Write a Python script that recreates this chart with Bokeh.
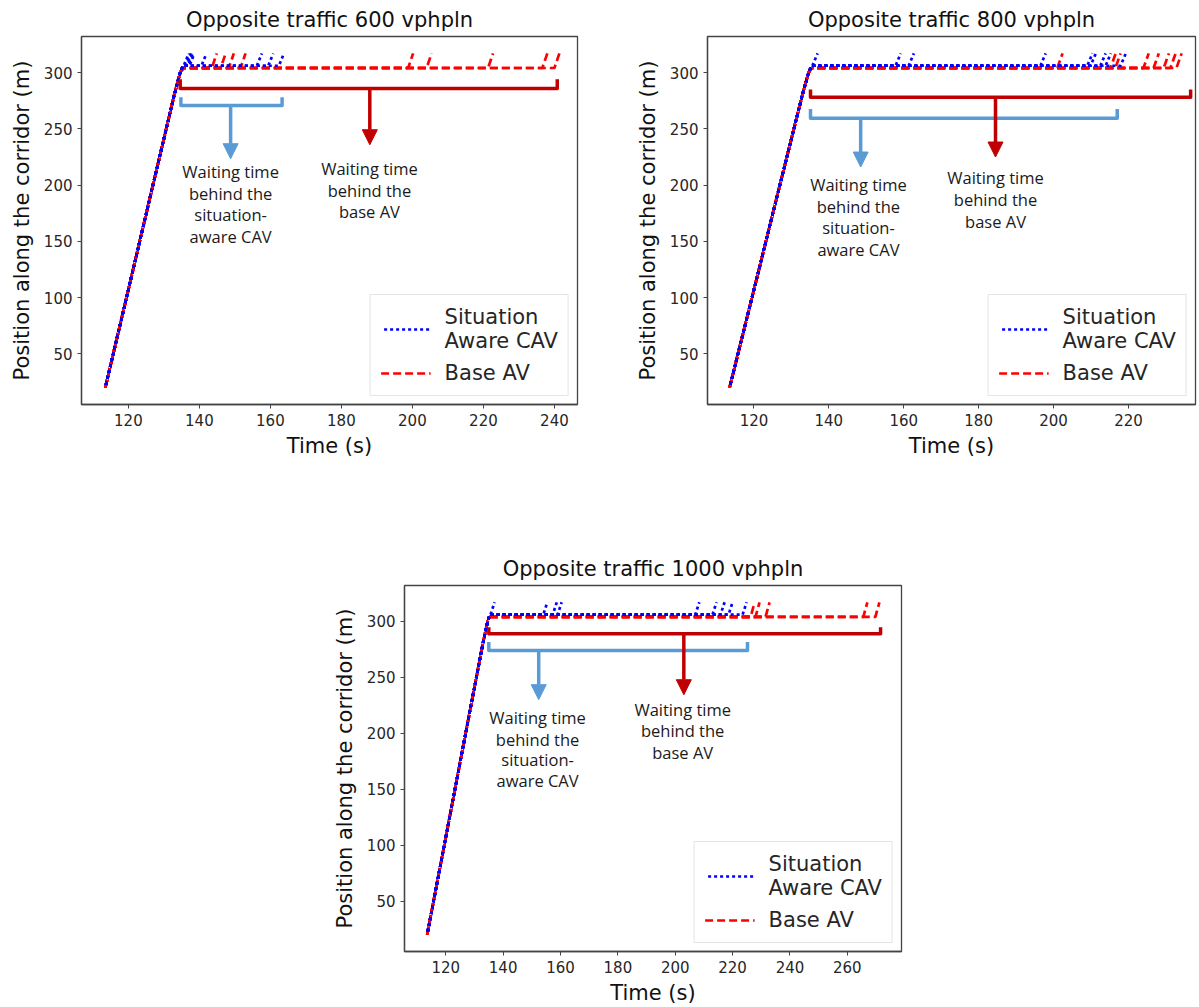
from bokeh.plotting import figure
from bokeh.layouts import column, row
from bokeh.models import Range1d, Arrow, NormalHead, Legend, LegendItem, FixedTicker
from bokeh.embed import file_html
from bokeh.resources import INLINE
from bokeh.core.properties import value

# Shared approach to the stop line (time s, position m)
approach_t = [113.5, 120.0, 127.0, 133.0, 134.6]
approach_y = [20.0, 107.0, 201.0, 281.0, 300.0]
stop_t = 135.4
cav_wait_y = 306.0
base_wait_y = 304.0
exit_y = 317.0
exit_dt = 1.4

# Departure times from the stop line (s)
cav_depart_600 = [135.6, 136.0, 136.4, 136.8, 137.2, 140.6, 156.2, 159.4, 162.4]
base_depart_600 = [143.5, 146.0, 148.3, 151.6, 198.8, 204.0, 221.3, 236.6, 240.0]
cav_depart_800 = [135.6, 157.8, 161.3, 196.5, 209.0, 209.9, 212.5, 213.9, 217.9]
base_depart_800 = [201.0, 215.2, 216.5, 224.0, 226.7, 229.4, 231.2, 232.8]
cav_depart_1000 = [135.6, 154.0, 157.3, 159.0, 207.0, 213.0, 215.8, 218.6, 223.5]
base_depart_1000 = [226.3, 228.0, 231.5, 265.6, 269.8]

titles = ["Opposite traffic 600 vphpln", "Opposite traffic 800 vphpln",
          "Opposite traffic 1000 vphpln"]
y_ticks = [50, 100, 150, 200, 250, 300]
x_ticks_600 = [120, 140, 160, 180, 200, 220, 240]
x_ticks_800 = [120, 140, 160, 180, 200, 220]
x_ticks_1000 = [120, 140, 160, 180, 200, 220, 240, 260]

CAV_NOTE = ["Waiting time", "behind the", "situation-", "aware CAV"]
BASE_NOTE = ["Waiting time", "behind the", "base AV"]

RED = "#C00000"
LIGHT_BLUE = "#5B9BD5"
TXT = "#262626"
AXC = "#444444"


def paths(departs, wait_y):
    xs, ys = [], []
    for td in departs:
        xs.append(approach_t + [stop_t, td, td + exit_dt])
        ys.append(approach_y + [wait_y, wait_y, exit_y])
    return xs, ys


def panel(title, cav_dep, base_dep, x_lo, x_hi, x_ticks, brackets, notes,
          width, height, b_left, b_right, b_top, b_bottom):
    p = figure(width=width, height=height, output_backend="svg",
               toolbar_location=None, x_range=Range1d(x_lo, x_hi),
               y_range=Range1d(5, 332), min_border_left=b_left,
               min_border_right=b_right, min_border_top=b_top,
               min_border_bottom=b_bottom, title=title)
    p.title.align = "center"
    p.title.text_font = "DejaVu Sans"
    p.title.text_font_size = "21px"
    p.title.text_font_style = "normal"
    p.title.text_color = "#111111"
    p.title.standoff = 10
    p.xgrid.visible = False
    p.ygrid.visible = False
    p.outline_line_color = AXC
    p.outline_line_width = 1.3
    p.xaxis.ticker = FixedTicker(ticks=x_ticks)
    p.yaxis.ticker = FixedTicker(ticks=y_ticks)
    p.xaxis.axis_label = "Time (s)"
    p.yaxis.axis_label = "Position along the corridor (m)"
    for ax in (p.xaxis, p.yaxis):
        ax.axis_label_text_font = "DejaVu Sans"
        ax.axis_label_text_font_size = "21px"
        ax.axis_label_text_font_style = "normal"
        ax.axis_label_text_color = "#111111"
        ax.major_label_text_font = "DejaVu Sans"
        ax.major_label_text_font_size = "15px"
        ax.major_label_text_color = TXT
        ax.axis_line_color = AXC
        ax.axis_line_width = 1.3
        ax.major_tick_line_color = AXC
        ax.major_tick_out = 4
        ax.major_tick_in = 0
        ax.minor_tick_line_color = None
    p.xaxis.major_label_standoff = 5
    p.xaxis.axis_label_standoff = 5
    p.yaxis.major_label_standoff = 5
    p.yaxis.axis_label_standoff = 7

    bx, by = paths(base_dep, base_wait_y)
    r_base = p.multi_line(bx, by, line_color="red", line_width=2.7,
                          line_dash="8 4")
    cx, cy = paths(cav_dep, cav_wait_y)
    r_cav = p.multi_line(cx, cy, line_color="blue", line_width=2.7,
                         line_dash="3 3", line_dash_offset=-9)

    for color, t0, t1, y_bar, y_hook, t_stem, y_tip in brackets:
        p.line([t0, t0, t1, t1], [y_hook, y_bar, y_bar, y_hook],
               line_color=color, line_width=3.5, line_join="round")
        p.add_layout(Arrow(end=NormalHead(size=15, fill_color=color,
                                          line_color=color),
                           x_start=t_stem, y_start=y_bar, x_end=t_stem,
                           y_end=y_tip, line_color=color, line_width=3.5))

    for t_c, y_lines, lines in notes:
        p.text(x=[t_c] * len(lines), y=y_lines, text=lines,
               text_align="center", text_baseline="middle",
               text_font=value("Open Sans"), text_font_size="16.5px",
               text_color="#1a1a1a")

    legend = Legend(items=[LegendItem(label="Situation\nAware CAV", renderers=[r_cav]),
                           LegendItem(label="Base AV", renderers=[r_base])],
                    location="bottom_right")
    legend.label_text_font = "DejaVu Sans"
    legend.label_text_font_size = "21px"
    legend.label_text_color = TXT
    legend.glyph_width = 50
    legend.glyph_height = 24
    legend.label_standoff = 14
    legend.spacing = 8
    legend.padding = 10
    legend.margin = 8
    legend.border_line_color = "#cccccc"
    legend.border_line_width = 1
    p.add_layout(legend)
    return p


p1 = panel(titles[0], cav_depart_600, base_depart_600, 106.8, 246.5, x_ticks_600,
           [(RED, 134.6, 240.8, 285.9, 294.0, 188.0, 235.8),
            (LIGHT_BLUE, 134.8, 163.3, 270.6, 278.0, 148.8, 223.4)],
           [(148.8, [211.7, 192.5, 173.5, 154.5], CAV_NOTE),
            (187.9, [214.6, 195.6, 176.3], BASE_NOTE)],
           625, 470, 81, 48, 34, 66)

p2 = panel(titles[1], cav_depart_800, base_depart_800, 107.6, 237.9, x_ticks_800,
           [(RED, 135.1, 236.6, 278.0, 285.0, 184.5, 224.9),
            (LIGHT_BLUE, 135.1, 217.0, 259.4, 267.6, 148.5, 216.0)],
           [(147.9, [200.2, 180.9, 162.0, 142.8], CAV_NOTE),
            (184.5, [206.4, 187.0, 167.5], BASE_NOTE)],
           574, 470, 82, 4, 34, 66)

p3 = panel(titles[2], cav_depart_1000, base_depart_1000, 105.6, 278.9, x_ticks_1000,
           [(RED, 135.0, 271.6, 289.0, 294.7, 203.0, 234.4),
            (LIGHT_BLUE, 135.0, 225.2, 274.0, 281.5, 152.4, 230.0)],
           [(152.0, [214.1, 194.8, 176.1, 157.6], CAV_NOTE),
            (202.6, [221.2, 202.6, 183.2], BASE_NOTE)],
           1199, 537, 404, 298, 115, 52)

layout = column(row(p1, p2), p3)
open("out.html", "w").write(file_html(layout, INLINE))
